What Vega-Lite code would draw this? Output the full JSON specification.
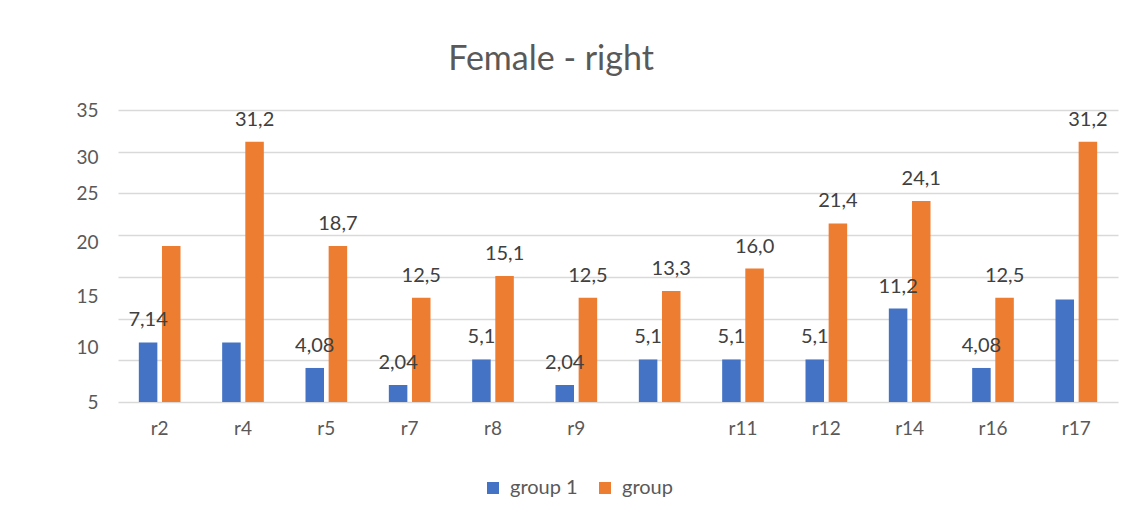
{
  "$schema": "https://vega.github.io/schema/vega-lite/v6.json",
  "autosize": "none",
  "width": 1000,
  "height": 292,
  "padding": {"left": 118, "top": 110, "right": 22, "bottom": 119},
  "background": "white",
  "title": {
    "text": "Female - right",
    "anchor": "middle",
    "frame": "group",
    "dx": -67,
    "dy": 4,
    "baseline": "alphabetic",
    "offset": 1,
    "fontSize": 34,
    "fontWeight": "normal",
    "font": "Lato",
    "color": "#595959"
  },
  "config": {
    "view": {"stroke": null},
    "font": "Lato"
  },
  "data": {
    "values": [
      {"cat": "r2", "group": "group 1", "value": 7.14, "label": "7,14"},
      {"cat": "r2", "group": "group", "value": 18.7, "label": ""},
      {"cat": "r4", "group": "group 1", "value": 7.14, "label": ""},
      {"cat": "r4", "group": "group", "value": 31.2, "label": "31,2"},
      {"cat": "r5", "group": "group 1", "value": 4.08, "label": "4,08"},
      {"cat": "r5", "group": "group", "value": 18.7, "label": "18,7"},
      {"cat": "r7", "group": "group 1", "value": 2.04, "label": "2,04"},
      {"cat": "r7", "group": "group", "value": 12.5, "label": "12,5"},
      {"cat": "r8", "group": "group 1", "value": 5.1, "label": "5,1"},
      {"cat": "r8", "group": "group", "value": 15.1, "label": "15,1"},
      {"cat": "r9", "group": "group 1", "value": 2.04, "label": "2,04"},
      {"cat": "r9", "group": "group", "value": 12.5, "label": "12,5"},
      {"cat": " ", "group": "group 1", "value": 5.1, "label": "5,1"},
      {"cat": " ", "group": "group", "value": 13.3, "label": "13,3"},
      {"cat": "r11", "group": "group 1", "value": 5.1, "label": "5,1"},
      {"cat": "r11", "group": "group", "value": 16.0, "label": "16,0"},
      {"cat": "r12", "group": "group 1", "value": 5.1, "label": "5,1"},
      {"cat": "r12", "group": "group", "value": 21.4, "label": "21,4"},
      {"cat": "r14", "group": "group 1", "value": 11.2, "label": "11,2"},
      {"cat": "r14", "group": "group", "value": 24.1, "label": "24,1"},
      {"cat": "r16", "group": "group 1", "value": 4.08, "label": "4,08"},
      {"cat": "r16", "group": "group", "value": 12.5, "label": "12,5"},
      {"cat": "r17", "group": "group 1", "value": 12.3, "label": ""},
      {"cat": "r17", "group": "group", "value": 31.2, "label": "31,2"}
    ]
  },
  "encoding": {
    "x": {
      "field": "cat",
      "type": "nominal",
      "sort": null,
      "scale": {"paddingInner": 0.5, "paddingOuter": 0.25},
      "axis": {
        "title": null,
        "labelAngle": 0,
        "domain": false,
        "ticks": false,
        "labelPadding": 17,
        "labelFontSize": 19,
        "labelColor": "#595959",
        "labelFont": "Lato"
      }
    },
    "xOffset": {
      "field": "group",
      "type": "nominal",
      "sort": ["group 1", "group"],
      "scale": {"paddingInner": 0.2, "paddingOuter": 0}
    }
  },
  "layer": [
    {
      "mark": {"type": "bar"},
      "encoding": {
        "y": {
          "field": "value",
          "type": "quantitative",
          "scale": {"domain": [0, 35], "nice": false},
          "axis": {
            "title": null,
            "values": [0, 5, 10, 15, 20, 25, 30, 35],
            "labels": false,
            "ticks": false,
            "domain": false,
            "grid": true,
            "gridColor": "#D9D9D9",
            "gridWidth": 1.5
          }
        },
        "color": {
          "field": "group",
          "type": "nominal",
          "scale": {"domain": ["group 1", "group"], "range": ["#4472C4", "#ED7D31"]},
          "legend": {
            "title": null,
            "orient": "none",
            "direction": "horizontal",
            "legendX": 365,
            "legendY": 368,
            "symbolType": "square",
            "symbolSize": 144,
            "symbolStrokeWidth": 0,
            "labelFontSize": 20,
            "labelColor": "#595959",
            "labelFont": "Lato",
            "labelOffset": 7,
            "columnPadding": 17
          }
        }
      }
    },
    {
      "mark": {"type": "text", "baseline": "alphabetic", "dy": -16, "fontSize": 20, "color": "#404040", "font": "Lato"},
      "encoding": {
        "y": {
          "field": "value",
          "type": "quantitative",
          "axis": {
            "title": null,
            "orient": "left",
            "values": [0, 6.5, 12.6, 19.1, 25, 29.3, 35],
            "labelExpr": "['5','10','15','20','25','30','35'][indexof([0, 6.5, 12.6, 19.1, 25, 29.3, 35], datum.value)]",
            "grid": false,
            "ticks": false,
            "domain": false,
            "labelPadding": 20,
            "labelFontSize": 19,
            "labelColor": "#595959",
            "labelFont": "Lato"
          }
        },
        "text": {"field": "label"}
      }
    }
  ],
  "resolve": {"axis": {"y": "independent"}}
}
